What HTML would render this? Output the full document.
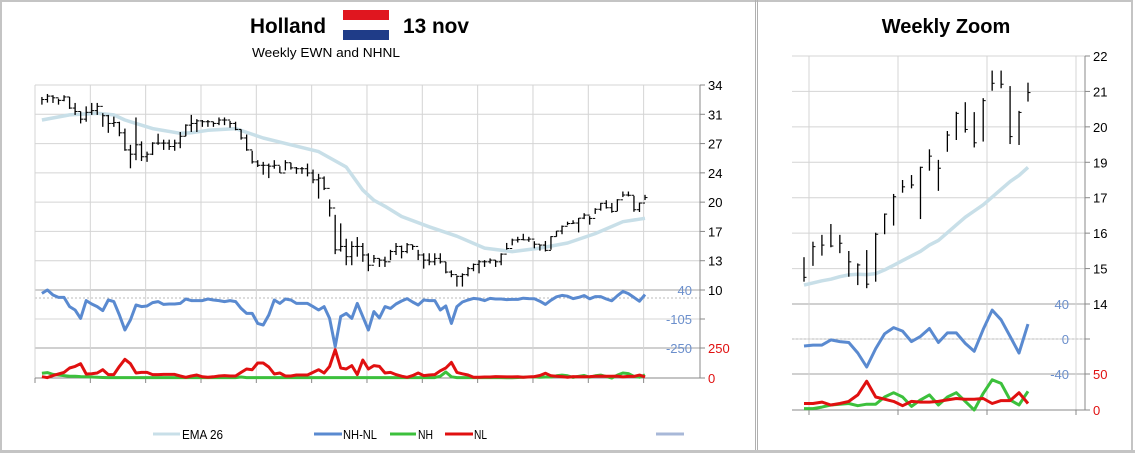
<!DOCTYPE html>
<html><head><meta charset="utf-8"><style>
body{margin:0;background:#fff;width:1135px;height:453px;overflow:hidden;font-family:"Liberation Sans",sans-serif}
svg{position:absolute;left:0;top:0}
</style></head><body>
<svg id="c" width="1135" height="453" xmlns="http://www.w3.org/2000/svg">
<rect x="0" y="0" width="1135" height="453" fill="#fff"/>
<rect x="1" y="1" width="1131" height="450" fill="none" stroke="#c4c4c4" stroke-width="2"/>
<line x1="755.5" y1="0" x2="755.5" y2="452" stroke="#b0b0b0"/>
<line x1="757.5" y1="0" x2="757.5" y2="452" stroke="#b0b0b0"/>
<rect x="0" y="450" width="1135" height="3" fill="#c4c4c4"/>
<text x="250" y="33" font-size="21" font-weight="bold" fill="#000" textLength="76" lengthAdjust="spacingAndGlyphs">Holland</text>
<g><rect x="343" y="10" width="46" height="10" fill="#e0161f"/><rect x="343" y="20" width="46" height="10" fill="#fff"/><rect x="343" y="30" width="46" height="10" fill="#1f3c88"/></g>
<text x="403" y="33" font-size="21" font-weight="bold" fill="#000" textLength="66" lengthAdjust="spacingAndGlyphs">13 nov</text>
<text x="252" y="57" font-size="13" fill="#000" textLength="148" lengthAdjust="spacingAndGlyphs">Weekly EWN and NHNL</text>
<text x="946" y="33" font-size="20" font-weight="bold" text-anchor="middle" fill="#000">Weekly Zoom</text>
<g>
<line x1="153" y1="434" x2="180" y2="434" stroke="#c8dfe8" stroke-width="3"/><text x="182" y="439" font-size="13" textLength="41" lengthAdjust="spacingAndGlyphs">EMA 26</text>
<line x1="314" y1="434" x2="342" y2="434" stroke="#5a8ad0" stroke-width="3"/><text x="343" y="439" font-size="13" textLength="34" lengthAdjust="spacingAndGlyphs">NH-NL</text>
<line x1="390" y1="434" x2="416" y2="434" stroke="#3cc03c" stroke-width="3"/><text x="418" y="439" font-size="13" textLength="15" lengthAdjust="spacingAndGlyphs">NH</text>
<line x1="445" y1="434" x2="473" y2="434" stroke="#e01010" stroke-width="3"/><text x="474" y="439" font-size="13" textLength="13" lengthAdjust="spacingAndGlyphs">NL</text>
<line x1="656" y1="434" x2="684" y2="434" stroke="#a8b8d8" stroke-width="3"/>
</g>
<g id="g"></g>
</svg>
<script>
// ---- Left chart data (weekly bars) ----
const lHigh=[32.6,32.95,32.8,32.4,32.8,32.6,31.9,30.9,31.5,31.9,31.9,30.7,30.5,30.3,29.7,28.9,27.0,30.2,27.4,26.2,27.3,28.3,27.6,27.6,27.6,28.5,29.4,30.5,30.0,29.9,29.9,29.7,30.2,30.2,29.8,29.7,28.8,28.2,26.3,25.2,25.0,24.8,25.2,24.5,25.2,24.9,24.4,24.4,24.8,24.1,23.6,23.3,20.6,18.8,17.8,16.0,15.7,16.2,15.5,14.3,14.1,13.7,13.9,14.7,15.5,15.2,15.5,15.3,14.7,14.3,14.3,14.3,14.3,13.3,12.3,11.7,11.95,12.7,13.1,13.5,13.5,13.7,13.5,14.3,
15.51,16.01,16.23,16.58,16.23,15.71,15.31,15.74,16.30,16.92,17.55,18.0,18.16,18.43,18.99,18.65,19.58,20.20,20.51,20.19,20.64,21.53,21.53,21.03,20.23,21.14];
const lLow=[31.7,31.94,31.9,31.7,32.1,31.2,30.5,29.5,29.7,30.5,30.5,29.1,28.4,29.1,28.0,26.3,24.25,25.2,25.1,25.0,25.8,27.0,26.4,26.4,26.3,26.6,28.0,28.5,28.5,29.1,29.1,29.1,29.3,29.3,29.0,28.7,27.6,26.3,24.8,24.4,23.5,23.1,24.2,23.7,24.0,24.1,23.6,23.6,23.3,22.5,20.7,21.7,18.6,14.2,14.5,12.9,12.9,13.9,13.3,12.2,13.2,12.7,12.7,13.5,14.1,13.7,14.3,14.7,13.5,12.5,12.9,12.9,13.1,11.95,11.5,10.4,10.4,11.6,12.2,11.95,12.7,13.1,12.7,12.9,
14.72,15.23,15.56,15.83,15.64,14.88,14.61,14.51,14.72,16.25,16.53,17.59,17.73,16.74,18.30,17.65,18.91,19.29,19.53,19.05,19.24,20.88,20.96,19.16,19.13,20.53];
const lClose=[32.3,32.7,32.5,32.2,32.6,31.3,30.9,30.0,30.8,31.0,31.5,30.4,29.5,29.6,28.4,26.4,25.9,27.0,25.6,25.9,27.2,27.2,27.2,26.8,27.2,28.0,29.3,29.5,29.8,29.7,29.7,29.5,29.9,29.9,29.5,28.8,27.8,26.4,25.0,24.6,24.6,24.5,24.6,23.7,24.9,24.3,24.2,24.2,23.7,22.9,23.1,21.9,19.6,14.7,15.1,13.9,15.1,15.1,14.1,12.9,13.7,13.5,13.3,14.5,15.1,14.5,15.3,15.1,14.1,13.5,13.3,13.7,13.3,12.1,11.8,11.6,11.8,12.5,13.0,13.3,13.3,13.5,13.3,14.2,
14.86,15.85,15.90,15.87,15.96,15.36,15.26,14.64,16.25,16.90,17.46,17.78,17.84,18.41,18.77,18.38,19.45,20.15,19.63,19.20,20.56,21.12,21.09,19.40,20.18,20.82];
const lEmaIdx=[0,5,10,13,15,20,25,27,30,35,40,45,50,55,58,60,62,65,70,75,80,85,90,95,100,105,109];
const lEmaVal=[29.9,30.5,30.7,30.5,29.9,28.9,28.35,28.4,28.7,28.9,27.8,27.0,26.2,24.4,21.7,20.5,19.8,18.6,17.4,16.3,14.9,14.5,14.9,15.5,16.6,18.0,18.4];
const lNhnl=[23,40,15,3,3,-43,-60,-102,-13,-30,-43,-63,-10,-18,-85,-160,-110,-35,-43,-40,-23,-18,-32,-30,-30,-27,-5,-13,-13,-13,-5,-10,-13,-18,-13,-18,-52,-77,-77,-127,-135,-85,-10,-27,-5,-10,-27,-27,-27,-43,-60,-43,-102,-243,-93,-77,-102,-27,-93,-160,-68,-100,-43,-52,-30,-15,-3,-20,-35,-10,-13,-13,-60,-40,-127,-43,-20,-10,-2,-5,-13,-2,-5,-5,
-8,-7,-7,-1,-3,-4,-16,-32,-11,6,13,9,-3,3,12,-4,7,7,-5,-14,11,33,22,3,-16,17];
const lNl=[11,3,20,33,47,83,97,119,33,36,42,69,28,28,97,156,119,42,47,47,28,28,30,30,30,17,6,17,25,10,6,10,17,20,17,17,47,75,69,125,125,92,33,42,17,17,25,25,25,47,69,42,97,236,83,75,103,28,150,75,103,97,42,47,28,15,6,20,42,20,25,28,60,83,130,47,35,25,6,6,8,8,12,10,
9,9,11,7,9,12,21,40,18,15,12,6,12,11,11,12,14,16,15,15,16,9,13,13,24,9];
const lNh=[40,45,30,25,20,15,15,12,10,8,6,4,3,3,3,3,3,3,3,3,3,3,3,3,3,3,3,3,3,3,3,3,3,3,3,3,8,3,3,3,3,3,3,3,3,3,3,3,3,3,3,3,3,3,3,3,3,3,3,3,3,3,3,3,3,3,3,3,3,3,3,3,15,50,10,3,3,3,3,3,3,3,3,3,
2,2,4,7,8,9,6,8,8,18,24,18,5,14,21,7,18,24,12,0,23,42,37,14,7,26];
const lPriceTicks=[34,31,27,24,20,17,13,10];
const lNhnlTicks=[40,-105,-250];
const lNlTicks=[250,0];
// ---- Right chart data (last 26 weeks) ----
const wHigh=lHigh.slice(84), wLow=lLow.slice(84), wClose=lClose.slice(84);
const wEma=[14.61,14.68,14.75,14.80,14.88,14.94,14.96,14.95,14.98,15.10,15.25,15.40,15.55,15.70,15.90,16.05,16.30,16.55,16.80,17.00,17.20,17.45,17.70,17.95,18.15,18.41];
const wNhnl=lNhnl.slice(84), wNl=lNl.slice(84), wNh=lNh.slice(84);
const wPriceTicks=[22,21,20,19,17,16,15,14];
const wNhnlTicks=[40,0,-40];
const wNlTicks=[50,0];

const NS="http://www.w3.org/2000/svg", G=document.getElementById('g');
function mk(t,a,p){const e=document.createElementNS(NS,t);for(const k in a)e.setAttribute(k,a[k]);(p||G).appendChild(e);return e;}
function poly(xs,ys,col,w,name){const pts=xs.map((x,i)=>x.toFixed(1)+','+ys[i].toFixed(1)).join(' ');
 const e=mk('polyline',{points:pts,fill:'none',stroke:col,'stroke-width':w,'stroke-linejoin':'round'});
 
 return e;}
function txt(x,y,s,col,anchor,name){const e=mk('text',{x:x,y:y,'font-size':13,fill:col,'text-anchor':anchor||'start'});e.textContent=s;
 
 return e;}

function panel(o){
 const {L,R,A,pTop,pBot,pMin,pMax,nTop,nBot,nMax,nMin,vBot,vMax,xOf,grids,high,low,close,emaX,emaV,nhnl,nl,nh,pt,nt,vt,lblX,pre,openTicks}=o;
 const py=v=>pBot-(v-pMin)/(pMax-pMin)*(pBot-pTop);
 const ny=v=>nTop+(nMax-v)/(nMax-nMin)*(nBot-nTop);
 const vy=v=>vBot-v/vMax*(vBot-nBot);
 for(let i=0;i<pt.length;i++){const y=pTop+i*(pBot-pTop)/(pt.length-1);
  const ln=mk('line',{x1:L,y1:y,x2:A,y2:y,stroke:'#d4d4d4'});
  
  
  mk('line',{x1:A,y1:y,x2:A+5,y2:y,stroke:'#888'});
  txt(A+8,y+5,String(pt[i]),'#000','start',pre+'price-tick-label');}
 mk('line',{x1:L,y1:(nTop+nBot)/2,x2:A,y2:(nTop+nBot)/2,stroke:'#d4d4d4'});
 mk('line',{x1:L,y1:nBot,x2:A,y2:nBot,stroke:'#d0d0d0','stroke-width':2});
 mk('line',{x1:L,y1:pBot,x2:A,y2:pBot,stroke:'#d0d0d0','stroke-width':2});
 mk('line',{x1:L,y1:ny(0),x2:A,y2:ny(0),stroke:'#bbb','stroke-dasharray':'2,2'});
 grids.forEach(x=>{mk('line',{x1:x,y1:pTop,x2:x,y2:vBot,stroke:'#d4d4d4'});mk('line',{x1:x,y1:vBot,x2:x,y2:vBot+5,stroke:'#888'});});
 mk('line',{x1:A,y1:pTop,x2:A,y2:vBot,stroke:'#888'});
 mk('line',{x1:L,y1:vBot,x2:A,y2:vBot,stroke:'#888'});
 mk('line',{x1:A,y1:vBot,x2:A+5,y2:vBot,stroke:'#888'});
 mk('line',{x1:A,y1:nBot,x2:A+5,y2:nBot,stroke:'#888'});
 mk('line',{x1:A,y1:(nTop+nBot)/2,x2:A+5,y2:(nTop+nBot)/2,stroke:'#888'});
 nt.forEach(v=>txt(lblX,ny(v)+5,String(v),'#6b8fcc','end',pre+'nhnl-tick-label'));
 vt.forEach(v=>txt(A+8,vy(v)+5,String(v),'#e01010','start',pre+'nhnl-count-tick-label'));
 poly(emaX,emaV.map(py),'#c8dfe8',3.5,pre+'ema26-line');
 for(let i=0;i<close.length;i++){const x=xOf(i);
  const b=mk('line',{x1:x,y1:py(high[i]),x2:x,y2:py(low[i]),stroke:'#000','stroke-width':1.3});
  
  
  mk('line',{x1:x,y1:py(close[i]),x2:x+2.5,y2:py(close[i]),stroke:'#000','stroke-width':1});
  if(openTicks&&i>0)mk('line',{x1:x-2.5,y1:py(close[i-1]),x2:x,y2:py(close[i-1]),stroke:'#000','stroke-width':1});}
 const xs=close.map((_,i)=>xOf(i));
 poly(xs,nhnl.map(ny),'#5a8ad0',3,pre+'nhnl-line');
 poly(xs,nh.map(vy),'#3cc03c',3,pre+'nh-line');
 poly(xs,nl.map(vy),'#e01010',3,pre+'nl-line');
}
const lx=i=>35+(i+1.25)*5.533;
panel({L:35,A:700,pTop:85,pBot:290,pMin:10,pMax:34,nTop:290,nBot:348,nMax:40,nMin:-250,vBot:378,vMax:250,
 xOf:lx,grids:[0,1,2,3,4,5,6,7,8,9,10,11].map(k=>35+k*55.33),high:lHigh,low:lLow,close:lClose,
 emaX:lEmaIdx.map(lx),emaV:lEmaVal,nhnl:lNhnl,nl:lNl,nh:lNh,pt:lPriceTicks,nt:lNhnlTicks,vt:lNlTicks,lblX:692,pre:'left-',openTicks:true});
const wx=i=>804+i*8.96;
panel({L:792,A:1085,pTop:56,pBot:304,pMin:14,pMax:22,nTop:304,nBot:374,nMax:40,nMin:-40,vBot:410,vMax:50,
 xOf:wx,grids:[809,898,987,1076],high:wHigh,low:wLow,close:wClose,
 emaX:wEma.map((_,i)=>wx(i)),emaV:wEma,nhnl:wNhnl,nl:wNl,nh:wNh,pt:wPriceTicks,nt:wNhnlTicks,vt:wNlTicks,lblX:1069,pre:'weekly-',openTicks:false});
</script>
</body></html>
